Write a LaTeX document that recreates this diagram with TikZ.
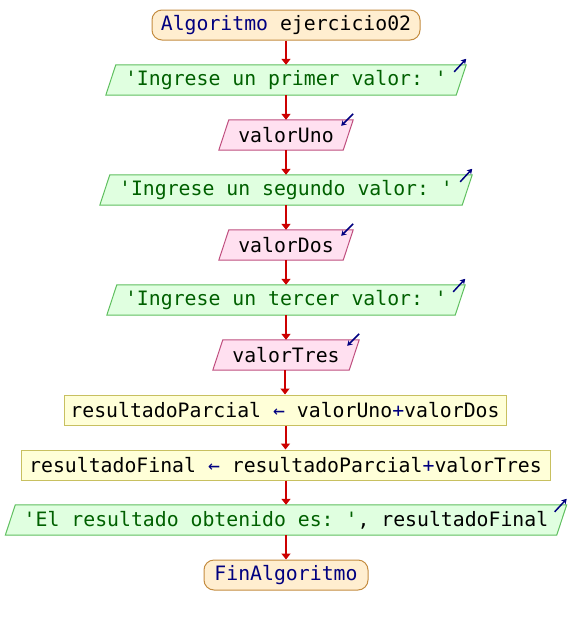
\documentclass[tikz,border=0pt]{standalone}
\usepackage{fontspec}
\setmonofont{DejaVu Sans Mono}
\usetikzlibrary{arrows.meta,backgrounds,calc}

\definecolor{kwblue}{RGB}{0,0,128}
\definecolor{strgreen}{RGB}{0,96,0}
\definecolor{termfill}{RGB}{255,238,208}
\definecolor{termline}{RGB}{196,140,64}
\definecolor{outfill}{RGB}{224,255,224}
\definecolor{outline}{RGB}{96,192,96}
\definecolor{infill}{RGB}{255,224,240}
\definecolor{inline}{RGB}{192,80,128}
\definecolor{asgfill}{RGB}{255,255,216}
\definecolor{asgline}{RGB}{200,192,96}
\definecolor{flowred}{RGB}{204,0,0}

\tikzset{
  x=1pt, y=-1pt,
  base/.style={inner sep=0pt, minimum height=30pt, align=center,
    font=\ttfamily\fontsize{19.8}{22}\selectfont},
  termbox/.style={base, draw=termline, fill=termfill, line width=1pt, rounded corners=10pt},
  asgbox/.style={base, draw=asgline, fill=asgfill, line width=1pt},
  iobox/.style={base},
  flow/.style={draw=flowred, line width=2pt, -{Triangle[length=6pt,width=9pt]}},
  icon/.style={draw=kwblue, line width=1.5pt, -{Stealth[length=5pt,width=6pt]}},
}

% slanted box behind a named node: #1 name, #2 fill, #3 border
\newcommand{\slantbox}[3]{%
  \filldraw[fill=#2, draw=#3, line width=1pt]
    ($(#1.north west)+(5,0)$) -- ($(#1.north east)+(5,0)$) --
    ($(#1.south east)+(-5,0)$) -- ($(#1.south west)+(-5,0)$) -- cycle;}

\begin{document}
\begin{tikzpicture}
\useasboundingbox (0,0) rectangle (572,625);

% nodes, top to bottom
\node[termbox, minimum width=268pt] (start) at (286,25)
  {\textcolor{kwblue}{Algoritmo} ejercicio02};
\node[iobox, minimum width=350pt] (out1) at (286,80)
  {\textcolor{strgreen}{'Ingrese un primer valor: '}};
\node[iobox, minimum width=124pt] (in1) at (286,135) {valorUno};
\node[iobox, minimum width=362pt] (out2) at (286,190)
  {\textcolor{strgreen}{'Ingrese un segundo valor: '}};
\node[iobox, minimum width=124pt] (in2) at (286,245) {valorDos};
\node[iobox, minimum width=348pt] (out3) at (286,300)
  {\textcolor{strgreen}{'Ingrese un tercer valor: '}};
\node[iobox, minimum width=136pt] (in3) at (286,355) {valorTres};
\node[asgbox, minimum width=442pt] (asg1) at (285,410)
  {resultadoParcial \textcolor{kwblue}{←} valorUno\textcolor{kwblue}{+}valorDos};
\node[asgbox, minimum width=529pt] (asg2) at (285.5,465)
  {resultadoFinal \textcolor{kwblue}{←} resultadoParcial\textcolor{kwblue}{+}valorTres};
\node[iobox, minimum width=551pt] (out4) at (286,520)
  {\textcolor{strgreen}{'El resultado obtenido es: '}, resultadoFinal};
\node[termbox, minimum width=164pt] (end) at (286,575)
  {\textcolor{kwblue}{FinAlgoritmo}};

% slanted input/output shapes
\begin{scope}[on background layer]
  \slantbox{out1}{outfill}{outline}
  \slantbox{out2}{outfill}{outline}
  \slantbox{out3}{outfill}{outline}
  \slantbox{out4}{outfill}{outline}
  \slantbox{in1}{infill}{inline}
  \slantbox{in2}{infill}{inline}
  \slantbox{in3}{infill}{inline}
\end{scope}

% output / input markers at the upper right corners
\foreach \n in {out1,out2,out3,out4}
  \draw[icon] ($(\n.north east)+(-7,7)$) -- ($(\n.north east)+(5,-6)$);
\foreach \n in {in1,in2,in3}
  \draw[icon] ($(\n.north east)+(5,-6)$) -- ($(\n.north east)+(-7,6)$);

% flow connectors, kept vertical on the main axis
\foreach \a/\b in {start/out1, out1/in1, in1/out2, out2/in2, in2/out3,
                   out3/in3, in3/asg1, asg1/asg2, asg2/out4, out4/end}
  \draw[flow] (\b.north |- \a.south) -- (\b.north);
\end{tikzpicture}
\end{document}
